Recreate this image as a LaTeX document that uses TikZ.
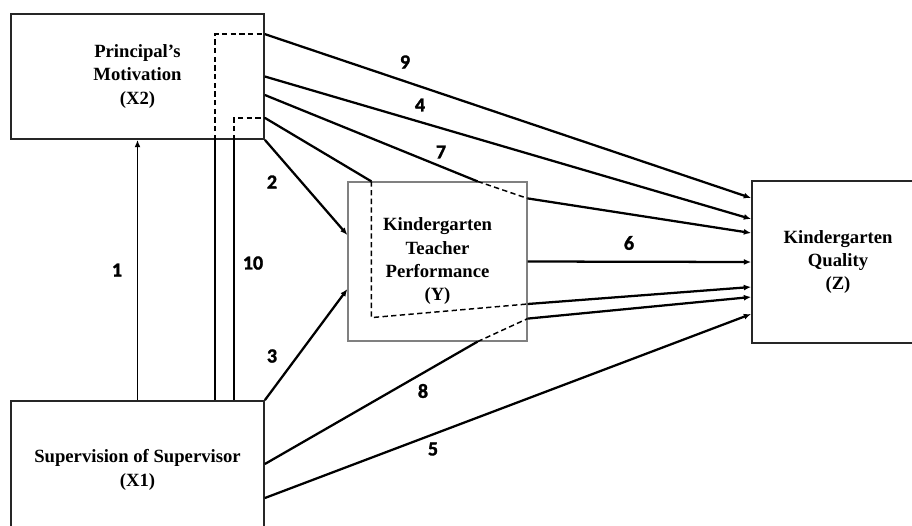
\documentclass[tikz,border=0pt]{standalone}
\usepackage{fontspec}
\setmainfont{Liberation Serif}
\newfontfamily\numfont{Carlito}[BoldFeatures={FakeBold=1.6}]
\usetikzlibrary{arrows.meta, calc}
\tikzset{
  varbox/.style={draw=black!85, line width=1.3pt, align=center, inner sep=0pt,
    font=\bfseries\fontsize{14}{17.5}\selectfont},
  medbox/.style={varbox, draw=black!50, line width=0.9pt},
  link/.style={line width=1.7pt},
  flow/.style={link, -{Latex[length=5.5pt, width=4.5pt]}},
  hidden/.style={line width=1.1pt, dash pattern=on 4pt off 2.5pt},
  numlabel/.style={font=\numfont\bfseries\fontsize{15}{16}\selectfont, inner sep=1pt},
}

\begin{document}
\begin{tikzpicture}[x=0.75pt, y=-0.75pt]
  \useasboundingbox (0,0) rectangle (912,525);
  \clip (0,0) rectangle (912,525);

  % ----------------------------------------------------------------
  % Variables
  % ----------------------------------------------------------------
  \node[varbox, minimum width=189.75pt, minimum height=93.75pt] (X2) at (137.5,76.5)
    {Principal’s\\Motivation\\(X2)};
  \node[varbox, minimum width=189.75pt, minimum height=103.5pt] (X1) at (137.5,470)
    {Supervision of Supervisor\\(X1)};
  \node[medbox, minimum width=134.25pt, minimum height=119.25pt] (Y) at (437.5,261.5)
    {Kindergarten\\Teacher\\Performance\\(Y)};
  \node[varbox, minimum width=129pt, minimum height=121.5pt] (Z) at (838,262)
    {Kindergarten\\Quality\\(Z)};

  % ----------------------------------------------------------------
  % Direct paths
  % ----------------------------------------------------------------
  \draw[flow, line width=1.2pt] (X1.north) -- (X2.south);
  \draw[flow] (X2.south east) -- ($(Y.west)+(0,-26.5)$);
  \draw[flow] (X1.north east) -- ($(Y.west)+(0,27.5)$);
  \draw[flow] (X2.east) -- ($(Z.west)+(0,-43)$);
  \draw[flow] (Y.east) -- (Z.west);
  \draw[flow] ($(X1.east)+(0,28)$) -- ($(Z.west)+(0,52)$);

  % ----------------------------------------------------------------
  % Indirect paths (dashed through the mediators)
  % ----------------------------------------------------------------
  % X1 -> X2 -> Z
  \coordinate (a9) at ($(X1.north)+(77.5,0)$);
  \coordinate (b9) at (a9 |- X2.south);
  \coordinate (c9) at ($(a9 |- X2.north)+(0,21)$);
  \coordinate (d9) at (X2.east |- c9);
  \draw[link] (a9) -- (b9);
  \draw[hidden] (b9) -- (c9) -- (d9);
  \draw[flow] (d9) -- ($(Z.west)+(0,-64)$);

  % X1 -> X2 -> Y -> Z
  \coordinate (a10) at ($(X1.north)+(96.5,0)$);
  \coordinate (b10) at (a10 |- X2.south);
  \coordinate (c10) at ($(a10 |- X2.south)+(0,-22)$);
  \coordinate (d10) at (X2.east |- c10);
  \coordinate (e10) at ($(Y.north west)+(24,0)$);
  \coordinate (f10) at ($(Y.south west)+(24,-24)$);
  \coordinate (g10) at ($(Y.east)+(0,42.5)$);
  \draw[link] (a10) -- (b10);
  \draw[hidden] (b10) -- (c10) -- (d10);
  \draw[link] (d10) -- (e10);
  \draw[hidden] (e10) -- (f10) -- (g10);
  \draw[flow] (g10) -- ($(Z.west)+(0,25)$);

  % X2 -> Y -> Z
  \coordinate (a7) at ($(X2.east)+(0,18.5)$);
  \coordinate (b7) at ($(Y.north east)+(-50,0)$);
  \coordinate (c7) at ($(Y.north east)+(0,17)$);
  \draw[link] (a7) -- (b7);
  \draw[hidden] (b7) -- (c7);
  \draw[flow] (c7) -- ($(Z.west)+(0,-29)$);

  % X1 -> Y -> Z
  \coordinate (a8) at ($(X1.east)+(0,-6)$);
  \coordinate (b8) at ($(Y.south east)+(-50,0)$);
  \coordinate (c8) at ($(Y.south east)+(0,-23)$);
  \draw[link] (a8) -- (b8);
  \draw[hidden] (b8) -- (c8);
  \draw[flow] (c8) -- ($(Z.west)+(0,35)$);

  % ----------------------------------------------------------------
  % Path numbers
  % ----------------------------------------------------------------
  \node[numlabel] (n1) at (117,270) {1};
  \node[numlabel] (n2) at (272,182) {2};
  \node[numlabel] (n3) at (272,356) {3};
  \node[numlabel] (n4) at (420,105) {4};
  \node[numlabel] (n5) at (433,449) {5};
  \node[numlabel] (n6) at (629,243) {6};
  \node[numlabel] (n7) at (441,152) {7};
  \node[numlabel] (n8) at (423,391) {8};
  \node[numlabel] (n9) at (405,62) {9};
  \node[numlabel] (n10) at (253,263) {10};

\end{tikzpicture}
\end{document}
